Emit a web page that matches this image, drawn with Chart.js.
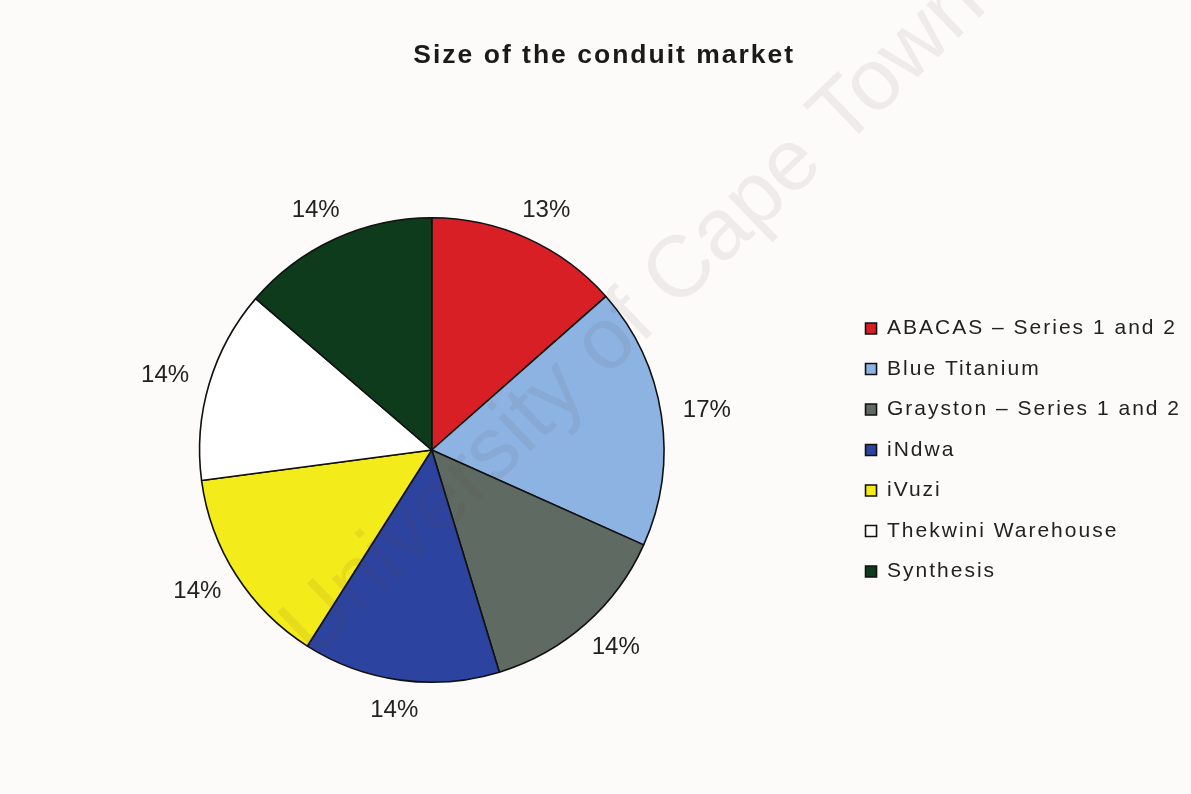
<!DOCTYPE html>
<html>
<head>
<meta charset="utf-8">
<title>Size of the conduit market</title>
<script src="https://cdn.jsdelivr.net/npm/chart.js@4.4.1/dist/chart.umd.min.js"></script>
<style>
  html, body { margin: 0; padding: 0; background: #fcfbf9; }
  #wrap { position: relative; width: 1191px; height: 794px; }
  canvas { display: block; }
</style>
</head>
<body>
<div id="wrap"><canvas id="c" width="1191" height="794"></canvas></div>
<script>
// ---- data ----
const chartTitle = 'Size of the conduit market';
const categories = ['ABACAS \u2013 Series 1 and 2', 'Blue Titanium', 'Grayston \u2013 Series 1 and 2', 'iNdwa', 'iVuzi', 'Thekwini Warehouse', 'Synthesis'];
const shares = [13.5, 18.2, 13.6, 13.7, 13.9, 13.4, 13.7];
const pctLabels = ['13%', '17%', '14%', '14%', '14%', '14%', '14%'];
const sliceColors = ['#d91f26', '#8db3e2', '#5f6a62', '#2d43a0', '#f3eb1a', '#ffffff', '#0e3b1b'];
const watermark = 'University of Cape Town';

Chart.defaults.font.family = '"Liberation Sans", Arial, sans-serif';

const spacingPlugin = {
  id: 'spacing',
  beforeLayout(chart) { chart.ctx.letterSpacing = '2px'; },
  beforeDraw(chart) { chart.ctx.letterSpacing = '2px'; }
};

const pctLabelPlugin = {
  id: 'pctLabels',
  afterDatasetsDraw(chart) {
    const ctx = chart.ctx;
    const meta = chart.getDatasetMeta(0);
    ctx.save();
    ctx.letterSpacing = '0px';
    ctx.font = '24px "Liberation Sans", Arial, sans-serif';
    ctx.fillStyle = '#222222';
    ctx.textAlign = 'center';
    ctx.textBaseline = 'middle';
    meta.data.forEach((arc, i) => {
      const p = arc.getProps(['x', 'y', 'startAngle', 'endAngle', 'outerRadius'], true);
      const mid = (p.startAngle + p.endAngle) / 2;
      const dx = Math.cos(mid), dy = Math.sin(mid);
      const w = ctx.measureText(pctLabels[i]).width;
      const d = p.outerRadius + 22;
      ctx.fillText(pctLabels[i], p.x + dx * (d + w / 2), p.y + dy * (d + 9));
    });
    ctx.restore();
  }
};

const watermarkPlugin = {
  id: 'watermark',
  afterDraw(chart) {
    const ctx = chart.ctx;
    ctx.save();
    ctx.letterSpacing = '0px';
    ctx.translate(314, 660);
    ctx.rotate(-44 * Math.PI / 180);
    ctx.font = '87px "Liberation Sans", Arial, sans-serif';
    ctx.fillStyle = 'rgba(90, 70, 60, 0.085)';
    ctx.textBaseline = 'alphabetic';
    ctx.fillText(watermark, 0, 0);
    ctx.restore();
  }
};

new Chart(document.getElementById('c'), {
  type: 'pie',
  data: {
    labels: categories,
    datasets: [{
      data: shares,
      backgroundColor: sliceColors,
      borderColor: '#111111',
      borderWidth: 1.6
    }]
  },
  options: {
    responsive: false,
    animation: false,
    devicePixelRatio: 1,
    layout: { padding: { left: 17.5, right: 0, top: 0, bottom: 111 } },
    plugins: {
      title: {
        display: true,
        text: chartTitle,
        color: '#1a1a1a',
        font: { size: 26.5, weight: 'bold' },
        padding: { top: 40, bottom: 145.2 }
      },
      legend: {
        display: true,
        position: 'right',
        align: 'center',
        fullSize: false,
        labels: {
          color: '#222222',
          font: { size: 21 },
          boxWidth: 11,
          boxHeight: 11,
          padding: 19.5
        }
      },
      tooltip: { enabled: false }
    }
  },
  plugins: [spacingPlugin, pctLabelPlugin, watermarkPlugin]
});
</script>
</body>
</html>
